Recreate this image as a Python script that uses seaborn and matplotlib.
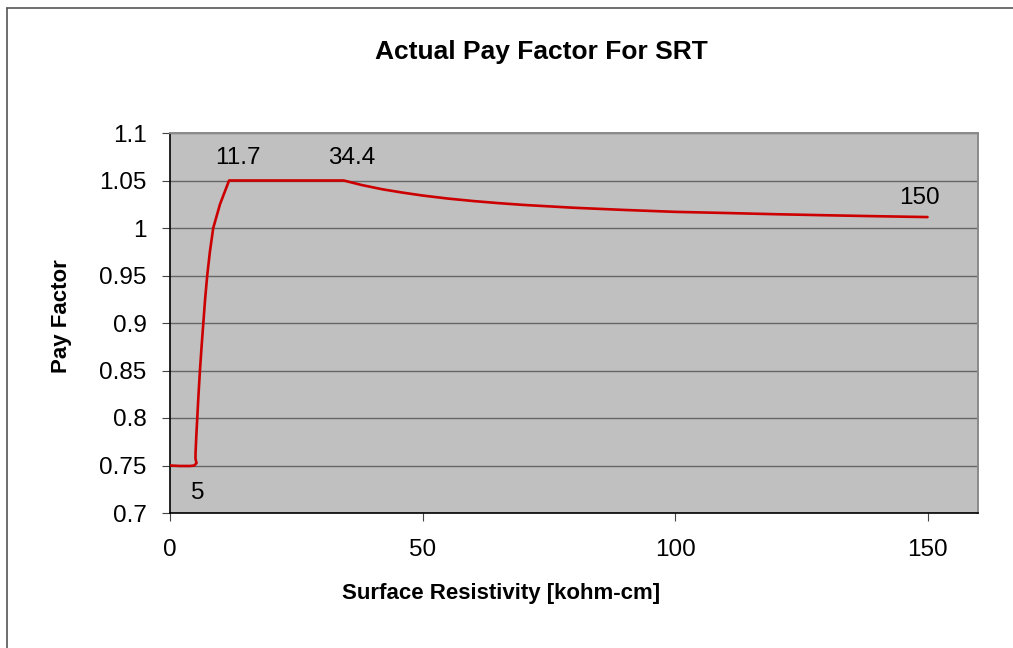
import matplotlib
matplotlib.use("Agg")
import matplotlib.pyplot as plt
from matplotlib.lines import Line2D
import seaborn as sns
import pandas as pd

# Surface resistivity (kohm-cm) and the resulting pay factor
resistivity = [0.0, 2.0, 4.0, 4.8, 5.25, 5.05, 5.05, 5.2, 5.4, 5.65, 5.93, 6.25,
               6.6, 6.95, 7.37, 7.9, 8.56, 9.9, 11.7, 34.4, 38.0, 42.0,
               46.0, 50.0, 55.0, 60.0, 65.0, 70.0, 80.0, 90.0, 100.0, 110.0,
               120.0, 130.0, 140.0, 150.0]
pay_factor = [0.75, 0.7495, 0.7495, 0.750, 0.7525, 0.757, 0.762, 0.78, 0.80,
              0.825, 0.85, 0.875, 0.90, 0.925, 0.95, 0.975, 1.0, 1.025,
              1.05, 1.05, 1.0452, 1.0408, 1.0373, 1.0342, 1.0310, 1.0284,
              1.0262, 1.0243, 1.0213, 1.0190, 1.0170, 1.0158, 1.0145, 1.0134,
              1.0124, 1.0115]

# Breakpoint annotations
note_text = ["11.7", "34.4", "150", "5"]
note_x = [11.7, 34.4, 150.0, 5.0]
note_y = [1.05, 1.05, 1.0115, 0.75]

x_ticks = [0, 50, 100, 150]
y_ticks = [0.7, 0.75, 0.8, 0.85, 0.9, 0.95, 1.0, 1.05, 1.1]
y_tick_labels = ["0.7", "0.75", "0.8", "0.85", "0.9", "0.95", "1", "1.05", "1.1"]

sns.set_theme(style="white")
plt.rcParams["font.family"] = ["Liberation Sans", "DejaVu Sans"]
plt.rcParams["text.color"] = "black"
plt.rcParams["axes.labelcolor"] = "black"
plt.rcParams["xtick.color"] = "black"
plt.rcParams["ytick.color"] = "black"

df = pd.DataFrame({"Surface Resistivity": resistivity, "Pay Factor": pay_factor})

W, H = 1013, 648
fig = plt.figure(figsize=(W / 100, H / 100), dpi=100)
ax = fig.add_axes([170 / W, 1 - 513 / H, 808 / W, 380 / H])
ax.set_facecolor("#C0C0C0")

sns.lineplot(data=df, x="Surface Resistivity", y="Pay Factor", sort=False,
             estimator=None, color="#CC0000", linewidth=1.9, ax=ax, zorder=3)

ax.set_xlim(0, 160)
ax.set_ylim(0.7, 1.1)
ax.set_xticks(x_ticks)
ax.set_yticks(y_ticks)
ax.set_yticklabels(y_tick_labels)
ax.grid(axis="y", color="#666666", linewidth=1.0, zorder=1)
ax.set_axisbelow(True)
ax.tick_params(axis="both", which="major", direction="out", length=6,
               width=0.8, color="#444444", labelsize=17.5, pad=11,
               labelcolor="black", left=True, bottom=True)
ax.tick_params(axis="x", pad=13)

for side in ("left", "bottom"):
    ax.spines[side].set_color("#000000")
    ax.spines[side].set_linewidth(1.2)
for side in ("top", "right"):
    ax.spines[side].set_color("#8a8a8a")
    ax.spines[side].set_linewidth(1.4)

ax.set_xlabel("")
ax.set_ylabel("")
fig.text(501 / W, 1 - 594 / H, "Surface Resistivity [kohm-cm]", fontsize=16,
         fontweight="bold", ha="center", va="center")
fig.text(62 / W, 1 - 316 / H, "Pay Factor", fontsize=16, fontweight="bold",
         ha="center", va="center", rotation=90)
fig.text(541 / W, 1 - 52 / H, "Actual Pay Factor For SRT", fontsize=19,
         fontweight="bold", ha="center", va="center")

offsets = [(6, 8), (6, 8), (-6, 6), (2, -12)]
for txt, xv, yv, off in zip(note_text, note_x, note_y, offsets):
    ax.annotate(txt, (xv, yv), xytext=off, textcoords="offset points",
                ha="center", va="bottom" if off[1] > 0 else "top",
                fontsize=17.5, color="#000000", zorder=4)

# Outer chart frame (left and top edges)
fig.add_artist(Line2D([7 / W, 7 / W], [0, 1 - 8 / H],
                      transform=fig.transFigure, color="#555555", linewidth=1.2))
fig.add_artist(Line2D([7 / W, 1], [1 - 8 / H, 1 - 8 / H],
                      transform=fig.transFigure, color="#555555", linewidth=1.2))

fig.savefig("out.png", dpi=100)
